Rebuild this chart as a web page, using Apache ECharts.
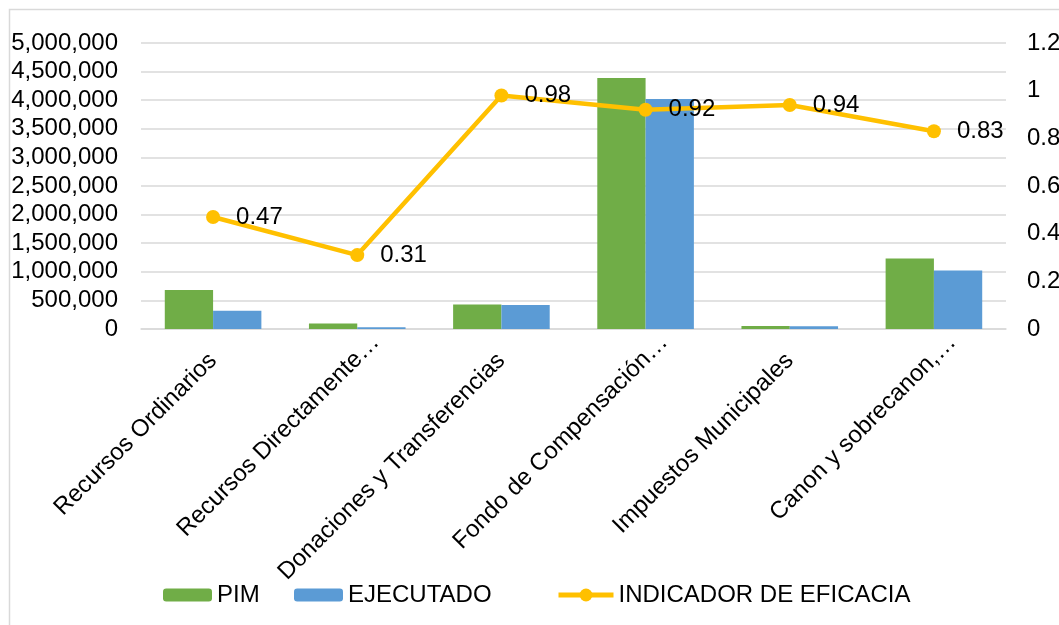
<!DOCTYPE html>
<html>
<head>
<meta charset="utf-8">
<script src="https://cdn.jsdelivr.net/npm/echarts@6/dist/echarts.min.js"></script>
<style>
    html, body { margin: 0; padding: 0; background: #fff; }
    #chart { width: 1059px; height: 625px; }
</style>
</head>
<body>
<div id="chart"></div>
<script>
    // datos
    var categorias = ['Recursos Ordinarios', 'Recursos Directamente…', 'Donaciones y Transferencias',
        'Fondo de Compensación…', 'Impuestos Municipales', 'Canon y sobrecanon,…']
    var pim = [680000, 95000, 430000, 4390000, 52000, 1232000]
    var ejecutado = [320000, 30000, 421000, 4020000, 49000, 1022000]
    var eficacia = [0.47, 0.31, 0.98, 0.92, 0.94, 0.83]

    var fuente = '"Liberation Sans", Arial, sans-serif'
    var chart = echarts.init(document.getElementById('chart'))

    // las etiquetas cortadas con "…" quedan un poco más arriba, como en Excel
    var etiquetas = categorias.map(function (c) {
        if (c.slice(-1) === '…') {
            return { value: c, textStyle: { padding: [0, -26, 0, 0] } }
        }
        return c
    })

    chart.setOption({
        animation: false,
        textStyle: { fontFamily: fuente },
        graphic: [{
            type: 'rect',
            shape: { x: 9.5, y: 9.5, width: 1200, height: 800 },
            style: { fill: 'none', stroke: '#d9d9d9', lineWidth: 1.5 }
        }],
        grid: { left: 141, right: 53, top: 43, bottom: 296, outerBoundsMode: 'none' },
        legend: [
            { data: ['PIM'], left: 163 },
            { data: ['EJECUTADO'], left: 294 },
            { data: ['INDICADOR DE EFICACIA'], left: 556, itemWidth: 55, itemHeight: 16, lineStyle: { width: 5 } }
        ].map(function (l) {
            return Object.assign({
                top: 583, padding: 0,
                itemWidth: 49, itemHeight: 13, itemGap: 5,
                textStyle: { fontSize: 24, color: '#000', fontFamily: fuente }
            }, l)
        }),
        xAxis: {
            type: 'category',
            data: etiquetas,
            axisLine: { lineStyle: { color: '#d9d9d9', width: 1.5 } },
            axisTick: { show: false },
            axisLabel: {
                rotate: 45, margin: 28, interval: 0,
                fontSize: 24, color: '#000'
            }
        },
        yAxis: [{
            type: 'value', min: 0, max: 5000000, interval: 500000,
            axisLabel: {
                fontSize: 24, color: '#000', margin: 23,
                formatter: function (v) { return v.toLocaleString('en-US') }
            },
            splitLine: { lineStyle: { color: '#d9d9d9', width: 1.5 } }
        }, {
            type: 'value', min: 0, max: 1.2, interval: 0.2,
            axisLabel: {
                fontSize: 24, color: '#000', margin: 21,
                formatter: function (v) { return String(+v.toFixed(1)) }
            },
            splitLine: { show: false }
        }],
        series: [{
            name: 'PIM', type: 'bar', data: pim,
            barGap: '0%', barCategoryGap: '33%',
            itemStyle: { color: '#70ad47' }
        }, {
            name: 'EJECUTADO', type: 'bar', data: ejecutado,
            itemStyle: { color: '#5b9bd5' }
        }, {
            name: 'INDICADOR DE EFICACIA', type: 'line', yAxisIndex: 1, data: eficacia,
            symbol: 'circle', symbolSize: 14,
            lineStyle: { color: '#ffc000', width: 4.5 },
            itemStyle: { color: '#ffc000' },
            label: { show: true, position: 'right', distance: 16, fontSize: 24, color: '#000' }
        }]
    })
</script>
</body>
</html>
